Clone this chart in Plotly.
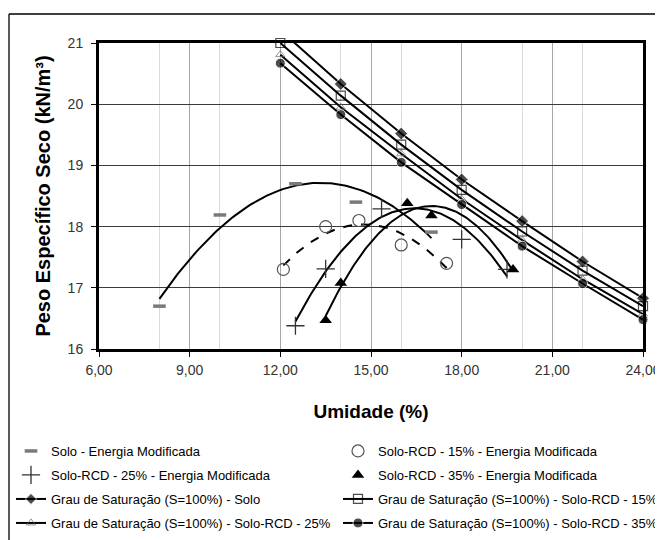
import numpy as np
import plotly.graph_objects as go

# ---------------- data ----------------
# Saturation curves (S = 100%)
w_sat = [12, 14, 16, 18, 20, 22, 24]
gd_sat_solo = [21.21, 20.33, 19.52, 18.77, 18.09, 17.43, 16.83]
gd_sat_rcd15 = [21.00, 20.14, 19.34, 18.60, 17.92, 17.28, 16.70]
gd_sat_rcd25 = [20.81, 19.95, 19.19, 18.45, 17.78, 17.14, 16.57]
gd_sat_rcd35 = [20.67, 19.83, 19.05, 18.36, 17.68, 17.07, 16.48]

# Compaction tests (Energia Modificada)
w_solo = [8.0, 10.0, 12.5, 14.5, 17.0]
gd_solo = [16.70, 18.19, 18.70, 18.40, 17.91]
w_rcd15 = [12.1, 13.5, 14.6, 16.0, 17.5]
gd_rcd15 = [17.30, 18.00, 18.10, 17.70, 17.40]
w_rcd25 = [12.5, 13.5, 15.35, 18.0, 19.5]
gd_rcd25 = [16.38, 17.31, 18.29, 17.79, 17.30]
w_rcd35 = [13.5, 14.0, 16.2, 17.0, 19.7]
gd_rcd35 = [16.47, 17.08, 18.38, 18.18, 17.30]

names_comp = ["Solo - Energia Modificada",
              "Solo-RCD - 15% - Energia Modificada",
              "Solo-RCD - 25% - Energia Modificada",
              "Solo-RCD - 35% - Energia Modificada"]
names_sat = ["Grau de Saturação (S=100%) - Solo",
             "Grau de Saturação (S=100%) - Solo-RCD - 15%",
             "Grau de Saturação (S=100%) - Solo-RCD - 25%",
             "Grau de Saturação (S=100%) - Solo-RCD - 35%"]

x_title = "Umidade (%)"
y_title = "Peso Específico Seco (kN/m³)"

# ---------------- figure ----------------
FONT = "Liberation Sans, Arial, sans-serif"
fig = go.Figure()


def trend(w, g, order=2):
    c = np.polyfit(w, g, order)
    xs = np.linspace(min(w), max(w), 120)
    return xs, np.polyval(c, xs)


# polynomial trendlines (order 2, like Excel)
for w, g, dash in [(w_solo, gd_solo, "solid"), (w_rcd15, gd_rcd15, "dash"),
                   (w_rcd25, gd_rcd25, "solid"), (w_rcd35, gd_rcd35, "solid")]:
    xs, ys = trend(w, g)
    fig.add_trace(go.Scatter(x=xs, y=ys, mode="lines", showlegend=False,
                             hoverinfo="skip",
                             line=dict(color="black", width=2, dash=dash)))

# legend slots: row-major, two columns
leg_ids = ["legend", "legend2", "legend3", "legend4",
           "legend5", "legend6", "legend7", "legend8"]

# compaction points
fig.add_trace(go.Scatter(x=w_solo, y=gd_solo, mode="markers", name=names_comp[0],
                         legend=leg_ids[0],
                         marker=dict(symbol="line-ew", size=9,
                                     line=dict(color="#7a7a7a", width=3.5))))
fig.add_trace(go.Scatter(x=w_rcd15, y=gd_rcd15, mode="markers", name=names_comp[1],
                         legend=leg_ids[1],
                         marker=dict(symbol="circle-open", size=12, color="#555555",
                                     line=dict(width=1.2))))
fig.add_trace(go.Scatter(x=w_rcd25, y=gd_rcd25, mode="markers", name=names_comp[2],
                         legend=leg_ids[2],
                         marker=dict(symbol="cross-thin", size=13,
                                     line=dict(color="#333333", width=1.3))))
fig.add_trace(go.Scatter(x=w_rcd35, y=gd_rcd35, mode="markers", name=names_comp[3],
                         legend=leg_ids[3],
                         marker=dict(symbol="triangle-up", size=11, color="black")))

# saturation lines
sat_styles = [
    dict(symbol="diamond", size=10, color="black"),
    dict(symbol="square-open", size=9, color="black", line=dict(width=1.2)),
    dict(symbol="triangle-up-open", size=8, color="#666666", line=dict(width=1)),
    dict(symbol="circle", size=10, color="black"),
]
sat_series = [gd_sat_solo, gd_sat_rcd15, gd_sat_rcd25, gd_sat_rcd35]
for i, (g, nm, st) in enumerate(zip(sat_series, names_sat, sat_styles)):
    st = dict(st)
    st["size"] = [st["size"] if v <= 21.0001 else 0 for v in g]
    fig.add_trace(go.Scatter(x=w_sat, y=g, mode="lines+markers", name=nm,
                             legend=leg_ids[4 + i], cliponaxis=False,
                             line=dict(color="black", width=2),
                             marker=st))

# ---------------- layout ----------------
# The page body adds an 8px offset; the figure is sized so that the
# plot area lands at window pixels x 99..643, y 43..349.
OFF = 8
W, H = 663 - OFF, 540 - OFF
L, R, T, B = 99 - OFF, 20, 43 - OFF, 191
pw, ph = W - L - R, H - T - B


def px_x(p):
    """window pixel -> paper x"""
    return (p - OFF - L) / pw


def px_y(p):
    """window pixel -> paper y"""
    return (H - B - (p - OFF)) / ph


leg_common = dict(orientation="v", xanchor="left", yanchor="middle",
                  font=dict(family=FONT, size=13, color="black"),
                  bgcolor="rgba(0,0,0,0)", itemclick=False)
row_y = [451, 475, 499, 523]
col_x = [11, 338]
legends = {}
for k, lid in enumerate(leg_ids):
    legends[lid] = dict(leg_common, x=px_x(col_x[k % 2]), y=px_y(row_y[k // 2]))

fig.update_layout(
    width=W, height=H,
    margin=dict(l=L, r=R, t=T, b=B, autoexpand=False),
    paper_bgcolor="white", plot_bgcolor="white",
    separators=",.",
    font=dict(family=FONT, color="#333333"),
    shapes=[
        dict(type="line", xref="paper", yref="paper",
             x0=px_x(9), x1=px_x(700), y0=px_y(14), y1=px_y(14),
             line=dict(color="black", width=1.3)),
        dict(type="line", xref="paper", yref="paper",
             x0=px_x(9), x1=px_x(9), y0=px_y(14), y1=px_y(600),
             line=dict(color="black", width=1.3)),
    ],
    **legends,
)

fig.update_xaxes(
    range=[6, 24], tickmode="linear", tick0=6, dtick=3, tickformat=".2f",
    showgrid=True, gridcolor="#a6a6a6", gridwidth=1,
    minor=dict(tick0=6, dtick=2, showgrid=True, gridcolor="#dadada", ticks=""),
    showline=True, linecolor="black", linewidth=3, mirror=True,
    ticks="outside", ticklen=5, tickcolor="black", tickwidth=1,
    ticklabelstandoff=1,
    tickfont=dict(family=FONT, size=14, color="#333333"),
    zeroline=False,
    title=dict(text=f"<b>{x_title}</b>", standoff=28,
               font=dict(family=FONT, size=19, color="black")),
)
fig.update_yaxes(
    range=[16, 21], tickmode="linear", tick0=16, dtick=1, tickformat="d",
    showgrid=True, gridcolor="#3a3a3a", gridwidth=1,
    showline=True, linecolor="black", linewidth=3, mirror=True,
    ticks="outside", ticklen=5, tickcolor="black", tickwidth=1,
    ticklabelstandoff=5,
    tickfont=dict(family=FONT, size=14, color="#333333"),
    zeroline=False,
    title=dict(text=f"<b>{y_title}</b>", standoff=12,
               font=dict(family=FONT, size=20, color="black")),
)

fig.write_html("out.html")
